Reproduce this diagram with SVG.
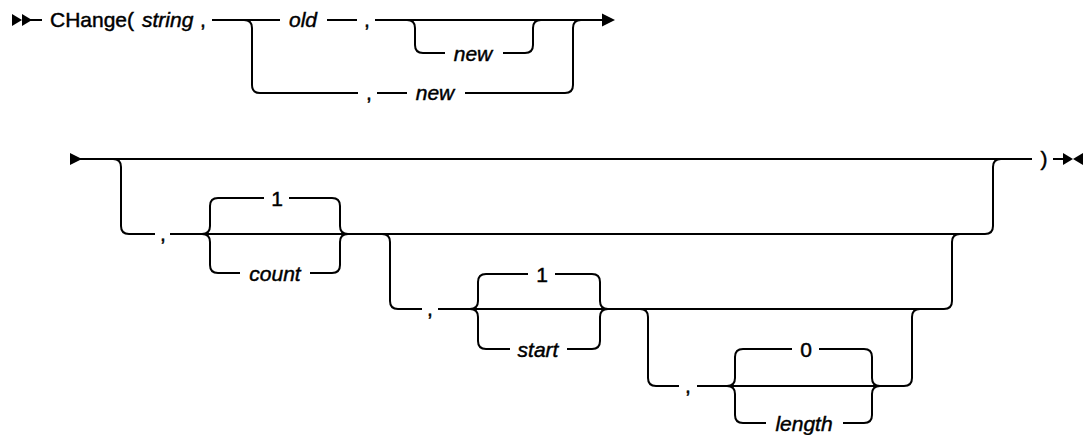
<svg xmlns="http://www.w3.org/2000/svg" width="1083" height="435" viewBox="0 0 1083 435">
<style>
.ln{fill:none;stroke:#000;stroke-width:2}
.ah{fill:#000;stroke:none}
text{font-family:"Liberation Sans",Arial,sans-serif;font-size:21px;fill:#000;stroke:#000;stroke-width:0.45}
.v{font-style:italic}
.m{text-anchor:middle}
</style>
<rect width="1083" height="435" fill="#fff"/>
<g id="connectors">
<!-- row 1 -->
<polygon class="ah" points="12,14 12,26 22,20"/>
<polygon class="ah" points="22,14 22,26 32,20"/>
<path class="ln" d="M30,20 H42"/>
<path class="ln" d="M212,20 H280 M327,20 H357 M375,20 H603"/>
<polygon class="ah" points="602,13.5 602,26.5 615,20"/>
<path class="ln" d="M244,20 Q252,20 252,28 V85 Q252,93 260,93 H358 M377,93 H407 M465,93 H565 Q573,93 573,85 V28 Q573,20 581,20"/>
<path class="ln" d="M407,20 Q415,20 415,28 V45 Q415,53 423,53 H445 M503,53 H525 Q533,53 533,45 V28 Q533,20 541,20"/>
<!-- row 2 -->
<polygon class="ah" points="70,153 70,165 82,159"/>
<path class="ln" d="M80,159 H1032"/>
<path class="ln" d="M113,159 Q121,159 121,167 V226 Q121,234 129,234 H155 M170,234 H985 Q993,234 993,226 V167 Q993,159 1001,159"/>
<path class="ln" d="M202,234 Q210,234 210,226 V206 Q210,198 218,198 H264 M289,198 H332 Q340,198 340,206 V226 Q340,234 348,234"/>
<path class="ln" d="M202,234 Q210,234 210,242 V265 Q210,273 218,273 H240 M310,273 H332 Q340,273 340,265 V242 Q340,234 348,234"/>
<path class="ln" d="M382,234 Q390,234 390,242 V301 Q390,309 398,309 H422 M438,309 H944 Q952,309 952,301 V242 Q952,234 960,234"/>
<path class="ln" d="M470,309 Q478,309 478,301 V282 Q478,274 486,274 H528 M555,274 H592 Q600,274 600,282 V301 Q600,309 608,309"/>
<path class="ln" d="M470,309 Q478,309 478,317 V341 Q478,349 486,349 H510 M567,349 H592 Q600,349 600,341 V317 Q600,309 608,309"/>
<path class="ln" d="M640,309 Q648,309 648,317 V378 Q648,386 656,386 H679 M697,386 H904 Q912,386 912,378 V317 Q912,309 920,309"/>
<path class="ln" d="M727,386 Q735,386 735,378 V357 Q735,349 743,349 H792 M819,349 H864 Q872,349 872,357 V378 Q872,386 880,386"/>
<path class="ln" d="M727,386 Q735,386 735,394 V415 Q735,423 743,423 H766 M843,423 H864 Q872,423 872,415 V394 Q872,386 880,386"/>
<path class="ln" d="M1053,159 H1064"/>
<polygon class="ah" points="1063,153 1063,165 1073,159"/>
<polygon class="ah" points="1083,153 1083,165 1073,159"/>
</g>
<g id="n-change"><text x="50" y="27">CHange(</text></g>
<g id="n-string"><text x="142" y="27" class="v">string</text></g>
<g id="n-comma1"><text x="203" y="27" class="m">,</text></g>
<g id="n-old"><text x="303" y="27" class="v m">old</text></g>
<g id="n-comma2"><text x="367" y="27" class="m">,</text></g>
<g id="n-new1"><text x="473" y="61" class="v m">new</text></g>
<g id="n-comma3"><text x="369" y="100" class="m">,</text></g>
<g id="n-new2"><text x="435" y="100" class="v m">new</text></g>
<g id="n-comma4"><text x="163" y="241" class="m">,</text></g>
<g id="n-count1"><text x="277" y="206" class="m">1</text></g>
<g id="n-count"><text x="275" y="281" class="v m">count</text></g>
<g id="n-comma5"><text x="430" y="316" class="m">,</text></g>
<g id="n-start1"><text x="542" y="282" class="m">1</text></g>
<g id="n-start"><text x="538" y="357" class="v m">start</text></g>
<g id="n-comma6"><text x="688" y="393" class="m">,</text></g>
<g id="n-length0"><text x="806" y="357" class="m">0</text></g>
<g id="n-length"><text x="804" y="431" class="v m">length</text></g>
<g id="n-close"><text x="1044" y="166" class="m">)</text></g>
</svg>
